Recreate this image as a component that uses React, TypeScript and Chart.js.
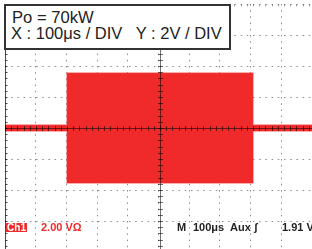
import React, { useEffect, useRef } from "react";
import { Chart, registerables } from "chart.js";

Chart.register(...registerables);

// Time in microseconds (100 µs / div), voltage in volts (2 V / div)
const timeUs = [-500, -300, -300, 300, 300, 490.3];
const upperV = [0.2, 0.2, 3.55, 3.55, 0.2, 0.2];
const lowerV = [-0.2, -0.2, -3.55, -3.55, -0.2, -0.2];

const X_MIN = -500;
const X_MAX = 490.3;
const Y_MIN = -7.806;
const Y_MAX = 8;
const X_DIV = 100;
const Y_DIV = 2;

const titleLine1 = "Po = 70kW";
const titleLine2 = "X : 100μs / DIV   Y : 2V / DIV";

const RED = "rgb(240,42,42)";

const crosshairPlugin = {
  id: "crosshair",
  afterDraw(chart: any) {
    const { ctx, chartArea } = chart;
    const xs = chart.scales.x;
    const ys = chart.scales.y;
    const cx = Math.round(xs.getPixelForValue(0)) + 0.5;
    const cy = Math.round(ys.getPixelForValue(0)) + 0.5;
    ctx.save();
    ctx.strokeStyle = "rgba(0,0,0,0.55)";
    ctx.lineWidth = 1;
    ctx.beginPath();
    ctx.moveTo(chartArea.left, cy);
    ctx.lineTo(chartArea.right, cy);
    ctx.moveTo(cx, chartArea.top);
    ctx.lineTo(cx, chartArea.bottom);
    for (let t = X_MIN; t <= X_MAX; t += X_DIV / 5) {
      const px = Math.round(xs.getPixelForValue(t)) + 0.5;
      ctx.moveTo(px, cy - 2.5);
      ctx.lineTo(px, cy + 2.5);
    }
    for (let v = -8; v <= Y_MAX; v += Y_DIV / 5) {
      const py = Math.round(ys.getPixelForValue(v)) + 0.5;
      if (py < chartArea.top || py > chartArea.bottom) continue;
      ctx.moveTo(cx - 2.5, py);
      ctx.lineTo(cx + 2.5, py);
    }
    ctx.stroke();
    const lx = Math.round(xs.getPixelForValue(X_MIN)) + 0.5;
    ctx.strokeStyle = "rgba(0,0,0,0.7)";
    ctx.beginPath();
    ctx.moveTo(lx, chartArea.top);
    ctx.lineTo(lx, chartArea.bottom);
    for (let v = -8; v <= Y_MAX; v += Y_DIV / 5) {
      const py = Math.round(ys.getPixelForValue(v)) + 0.5;
      if (py < chartArea.top || py > chartArea.bottom) continue;
      ctx.moveTo(lx, py);
      ctx.lineTo(lx + 2, py);
    }
    ctx.stroke();
    const ty = Math.round(ys.getPixelForValue(Y_MAX)) + 0.5;
    ctx.strokeStyle = "rgba(0,0,0,0.35)";
    ctx.beginPath();
    for (let t = X_MIN; t <= X_MAX; t += X_DIV / 5) {
      const px = Math.round(xs.getPixelForValue(t)) + 0.5;
      ctx.moveTo(px, ty);
      ctx.lineTo(px, ty + 2);
    }
    ctx.stroke();
    ctx.restore();
  },
};

function ScopeChart() {
  const ref = useRef<HTMLCanvasElement | null>(null);
  useEffect(() => {
    if (!ref.current) return;
    const chart = new Chart(ref.current, {
      type: "line",
      data: {
        datasets: [
          {
            data: timeUs.map((t, i) => ({ x: t, y: upperV[i] })),
            borderColor: "rgba(240,60,60,0.55)",
            borderWidth: 1.5,
            backgroundColor: RED,
            fill: "+1",
            pointRadius: 0,
            tension: 0,
          },
          {
            data: timeUs.map((t, i) => ({ x: t, y: lowerV[i] })),
            borderColor: "rgba(240,60,60,0.55)",
            borderWidth: 1.5,
            backgroundColor: RED,
            fill: false,
            pointRadius: 0,
            tension: 0,
          },
        ],
      },
      options: {
        animation: false,
        responsive: false,
        events: [],
        layout: { padding: { left: 5, top: 4, right: 0, bottom: 0 } },
        plugins: { legend: { display: false }, tooltip: { enabled: false }, title: { display: false } },
        scales: {
          x: {
            type: "linear",
            min: X_MIN,
            max: X_MAX,
            z: 1,
            ticks: { display: false, stepSize: X_DIV, includeBounds: false },
            grid: {
              drawTicks: false,
              lineWidth: 1,
              color: (c: any) =>
                c.tick && (c.tick.value === 0 || c.tick.value === X_MIN) ? "rgba(0,0,0,0)" : "rgba(0,0,0,0.45)",
            },
            border: { display: false, dash: [1.5, 4.7] },
          },
          y: {
            type: "linear",
            min: Y_MIN,
            max: Y_MAX,
            z: 1,
            ticks: { display: false, stepSize: Y_DIV, includeBounds: false },
            grid: {
              drawTicks: false,
              lineWidth: 1,
              color: (c: any) => (c.tick && c.tick.value === 0 ? "rgba(0,0,0,0)" : "rgba(0,0,0,0.45)"),
            },
            border: { display: false, dash: [1.5, 4.7] },
          },
        },
      },
      plugins: [crosshairPlugin],
    });
    return () => chart.destroy();
  }, []);
  return <canvas ref={ref} width={312} height={249} style={{ display: "block", width: 312, height: 249 }} />;
}

const textFont = '"Liberation Sans", Arial, sans-serif';

export default function App() {
  return (
    <div
      style={{
        position: "fixed",
        left: 0,
        top: 0,
        width: 312,
        height: 249,
        overflow: "hidden",
        background: "#fff",
        fontFamily: textFont,
      }}
    >
      <ScopeChart />
      <div
        style={{
          position: "absolute",
          left: 4,
          top: 4,
          width: 227,
          height: 46,
          boxSizing: "border-box",
          border: "2px solid #333",
          background: "#fff",
        }}
      />
      <div style={{ position: "absolute", left: 12, top: 9, fontSize: 16.6, lineHeight: "17px", color: "#222", whiteSpace: "pre" }}>
        {titleLine1}
      </div>
      <div style={{ position: "absolute", left: 11, top: 25, fontSize: 16.5, lineHeight: "17px", color: "#222", whiteSpace: "pre" }}>
        {titleLine2}
      </div>
      <div
        style={{
          position: "absolute",
          left: 6,
          top: 223,
          width: 21,
          height: 9,
          background: RED,
          color: "#fff",
          fontSize: 10,
          fontWeight: "bold",
          lineHeight: "9px",
          textAlign: "center",
          whiteSpace: "pre",
        }}
      >
        Ch1
      </div>
      {[
        { t: "2.00 VΩ", x: 41, c: RED },
        { t: "M", x: 177, c: "#222" },
        { t: "100μs", x: 193, c: "#222" },
        { t: "Aux", x: 230, c: "#222" },
        { t: "ʃ", x: 254, c: "#222" },
        { t: "1.91 V", x: 282, c: "#222" },
      ].map((s) => (
        <div
          key={s.x}
          style={{
            position: "absolute",
            left: s.x,
            top: 222,
            fontSize: 11,
            fontWeight: "bold",
            lineHeight: "11px",
            color: s.c,
            whiteSpace: "pre",
          }}
        >
          {s.t}
        </div>
      ))}
    </div>
  );
}
